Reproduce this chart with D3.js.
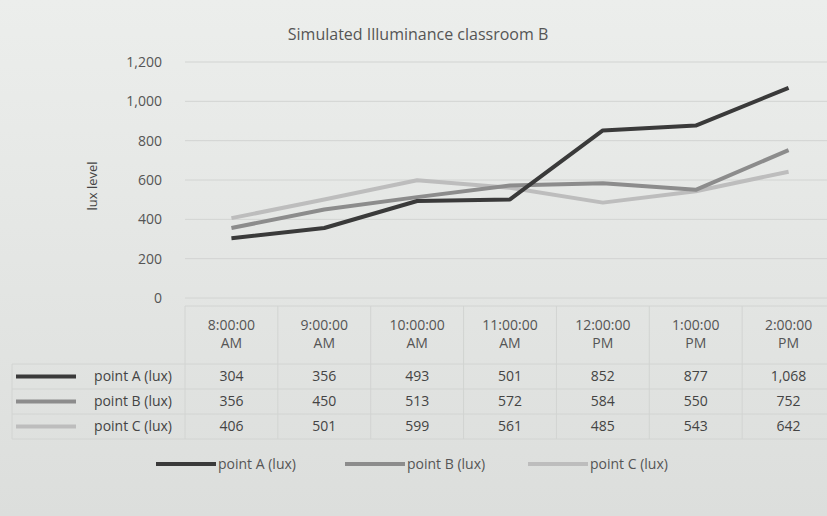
<!DOCTYPE html>
<meta charset="utf-8">
<script src="https://d3js.org/d3.v7.min.js"></script>
<style>
  body { margin: 0; background: #e5e7e5; }
  svg { display: block; font-family: "Open Sans", "DejaVu Sans", sans-serif; }
</style>
<div id="chart"></div>
<script>
var times = ["8:00:00 AM", "9:00:00 AM", "10:00:00 AM", "11:00:00 AM", "12:00:00 PM", "1:00:00 PM", "2:00:00 PM"];
var seriesNames = ["point A (lux)", "point B (lux)", "point C (lux)"];
var pointA = [304, 356, 493, 501, 852, 877, 1068];
var pointB = [356, 450, 513, 572, 584, 550, 752];
var pointC = [406, 501, 599, 561, 485, 543, 642];
var yTicks = [0, 200, 400, 600, 800, 1000, 1200];
var colors = ["#3a3a3a", "#8c8c8c", "#bdbdbd"];

var series = [pointA, pointB, pointC];

var W = 827, H = 516;
var svg = d3.select("#chart").append("svg").attr("width", W).attr("height", H);

// paper background, a bit darker toward the bottom
var defs = svg.append("defs");
var grad = defs.append("linearGradient").attr("id", "paper").attr("x1", 0).attr("y1", 0).attr("x2", 0).attr("y2", 1);
grad.append("stop").attr("offset", 0).attr("stop-color", "#eceeec");
grad.append("stop").attr("offset", 1).attr("stop-color", "#dcdedc");
svg.append("rect").attr("width", W).attr("height", H).attr("fill", "url(#paper)");

var x = d3.scaleBand().domain(times).range([185, 835]);
var y = d3.scaleLinear().domain([0, 1200]).range([298, 62]);

// gridlines
svg.append("g").selectAll("line").data(yTicks).join("line")
  .attr("x1", 185).attr("x2", 835)
  .attr("y1", function(d) { return y(d); }).attr("y2", function(d) { return y(d); })
  .attr("stroke", "#d2d4d2").attr("stroke-width", 1);

// y axis labels
svg.append("g").selectAll("text").data(yTicks).join("text")
  .attr("x", 162).attr("y", function(d) { return y(d); })
  .attr("dy", "0.35em").attr("text-anchor", "end")
  .attr("font-size", 14).attr("fill", "#555")
  .text(d3.format(","));

svg.append("text")
  .attr("transform", "translate(97,186) rotate(-90)")
  .attr("text-anchor", "middle").attr("font-size", 13).attr("fill", "#444")
  .text("lux level");

svg.append("text")
  .attr("x", 418).attr("y", 40).attr("text-anchor", "middle")
  .attr("font-size", 16).attr("fill", "#555")
  .text("Simulated Illuminance classroom B");

// lines
var line = d3.line()
  .x(function(d, i) { return x(times[i]) + x.bandwidth() / 2; })
  .y(function(d) { return y(d); });

series.slice().reverse().forEach(function(s, k) {
  var i = series.length - 1 - k;
  svg.append("path").datum(s)
    .attr("d", line)
    .attr("fill", "none")
    .attr("stroke", colors[i])
    .attr("stroke-width", 4)
    .attr("stroke-linejoin", "round");
});

// data table
var tableTop = 306, headH = 58, rowH = 25;
var tbl = svg.append("g");
var tableBottom = tableTop + headH + rowH * 3;

// horizontal rules
var rules = [tableTop, tableTop + headH, tableTop + headH + rowH, tableTop + headH + rowH * 2, tableBottom];
tbl.selectAll("line.h").data(rules).join("line")
  .attr("x1", function(d, i) { return i === 0 ? 185 : 12; }).attr("x2", 835)
  .attr("y1", function(d) { return d; }).attr("y2", function(d) { return d; })
  .attr("stroke", "#d2d4d2");
// vertical rules
var vx = [12].concat(times.map(function(t) { return x(t); }));
tbl.selectAll("line.v").data(vx).join("line")
  .attr("x1", function(d) { return d; }).attr("x2", function(d) { return d; })
  .attr("y1", function(d, i) { return i === 0 ? tableTop + headH : tableTop; })
  .attr("y2", tableBottom)
  .attr("stroke", "#d2d4d2");

// header text
times.forEach(function(t) {
  var parts = t.split(" ");
  var g = tbl.append("text")
    .attr("x", x(t) + x.bandwidth() / 2).attr("y", tableTop + 24)
    .attr("text-anchor", "middle").attr("font-size", 14).attr("fill", "#555");
  g.append("tspan").attr("x", x(t) + x.bandwidth() / 2).text(parts[0]);
  g.append("tspan").attr("x", x(t) + x.bandwidth() / 2).attr("dy", 18).text(parts[1]);
});

// row labels and values
series.forEach(function(s, i) {
  var cy = tableTop + headH + rowH * i + rowH / 2;
  tbl.append("line")
    .attr("x1", 16).attr("x2", 76).attr("y1", cy).attr("y2", cy)
    .attr("stroke", colors[i]).attr("stroke-width", 4);
  tbl.append("text")
    .attr("x", 172).attr("y", cy).attr("dy", "0.35em")
    .attr("text-anchor", "end").attr("font-size", 14).attr("fill", "#444")
    .text(seriesNames[i]);
  tbl.selectAll(null).data(s).join("text")
    .attr("x", function(d, j) { return x(times[j]) + x.bandwidth() / 2; })
    .attr("y", cy).attr("dy", "0.35em")
    .attr("text-anchor", "middle").attr("font-size", 14).attr("fill", "#444")
    .text(d3.format(","));
});

// legend
var legX = [156, 345, 528];
seriesNames.forEach(function(n, i) {
  svg.append("line")
    .attr("x1", legX[i]).attr("x2", legX[i] + 60)
    .attr("y1", 464).attr("y2", 464)
    .attr("stroke", colors[i]).attr("stroke-width", 4);
  svg.append("text")
    .attr("x", legX[i] + 62).attr("y", 464).attr("dy", "0.35em")
    .attr("font-size", 14).attr("fill", "#555")
    .text(n);
});
</script>
